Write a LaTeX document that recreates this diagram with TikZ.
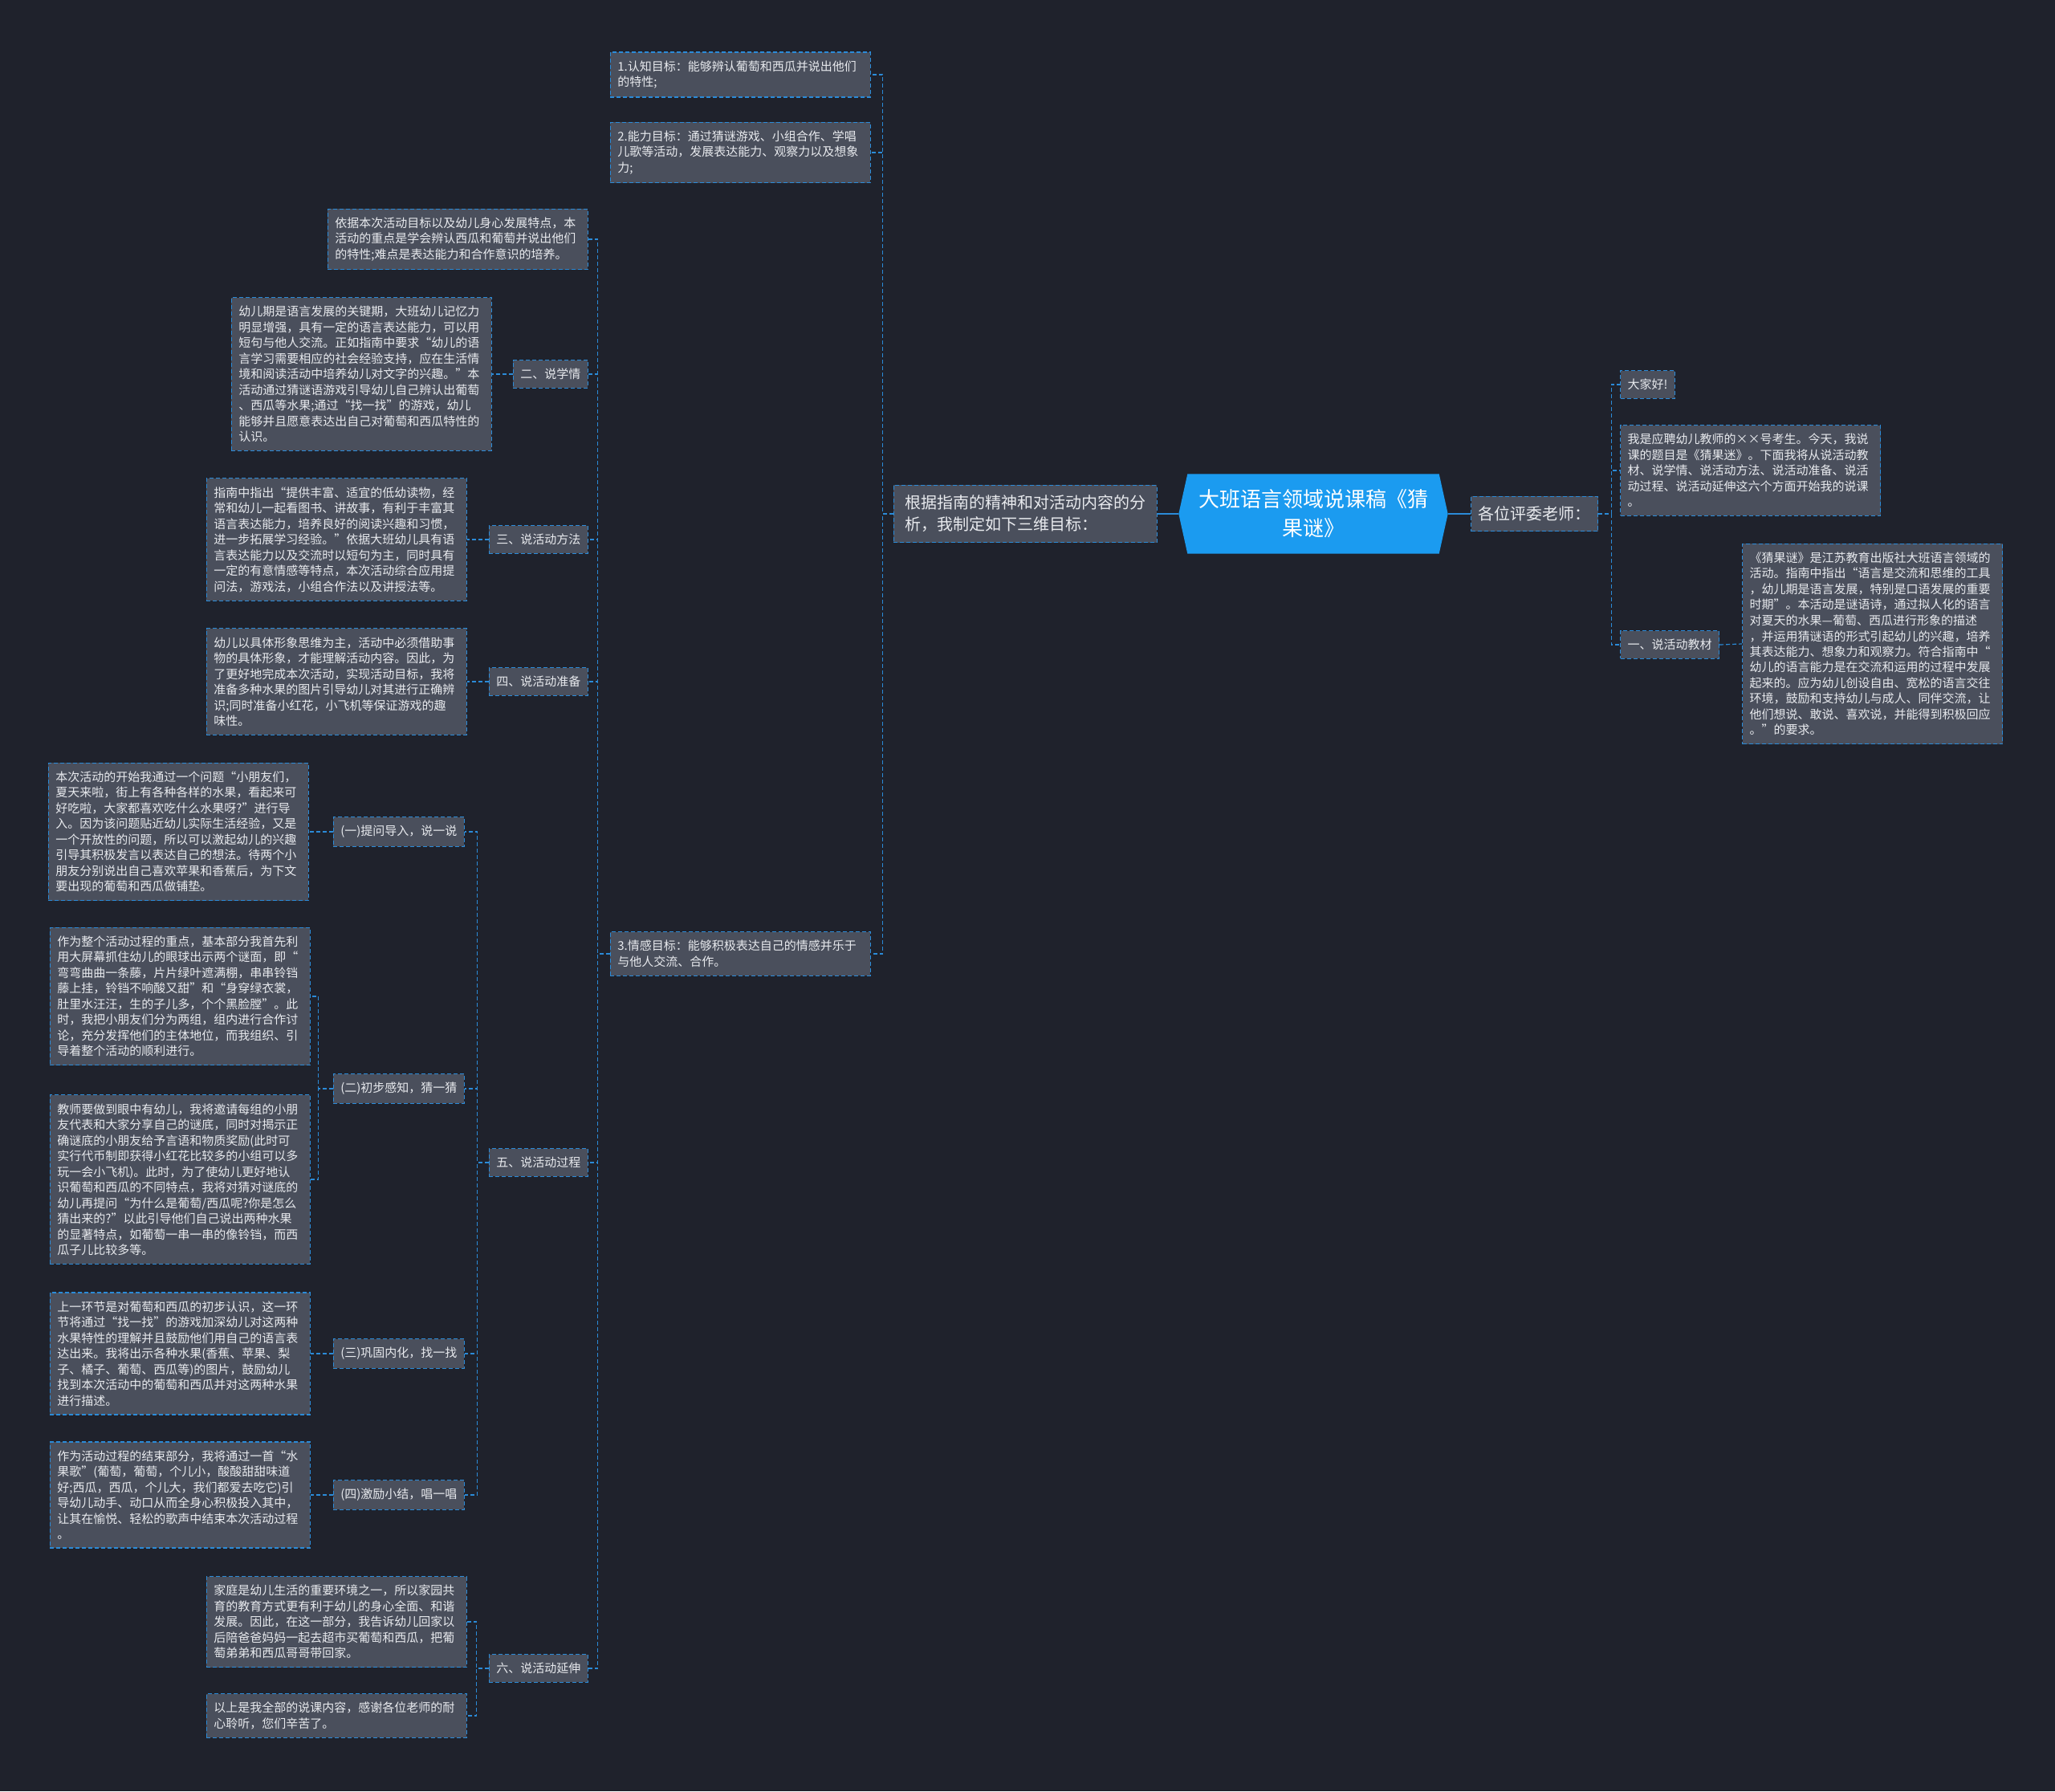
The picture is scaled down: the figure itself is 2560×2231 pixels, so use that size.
\documentclass[tikz,border=0pt]{standalone}
\usepackage{fontspec}
\setmainfont{Noto Sans CJK SC}
\usepackage{tikz}
\usetikzlibrary{
  positioning,
  calc,
  backgrounds
}
\definecolor{mapBg}{HTML}{1F222C}
\definecolor{mapBox}{HTML}{4A4F5C}
\definecolor{mapEdge}{HTML}{2B8BD8}
\definecolor{mapRoot}{HTML}{1B9BF0}
\definecolor{mapText}{HTML}{E8EAEE}

\begin{document}
\begin{tikzpicture}[x=1pt, y=-1pt,
  leaf/.style={draw=mapEdge, fill=mapBox, dash pattern=on 5pt off 3pt, line width=1.2pt,
    text=mapText, font=\fontsize{15}{19.5}\selectfont, inner xsep=9pt, inner ysep=10.5pt, align=left},
  para/.style={leaf, text width=306pt},
  mid/.style={leaf, font=\fontsize{20}{27}\selectfont, inner ysep=12.5pt},
  rootnode/.style={text=white, font=\fontsize{26}{36}\selectfont, align=center,
    minimum width=335pt, minimum height=99pt},
  link/.style={draw=mapEdge, line width=1.2pt, dash pattern=on 5pt off 3pt},
  trunk/.style={draw=mapEdge, line width=2pt}]

  % centre
  \node[rootnode] (root) at (1636,640) {大班语言领域说课稿《猜\\果谜》};
  \node[mid, inner xsep=14pt, anchor=east] (goals) at (1442,640) {根据指南的精神和对活动内容的分\\析，我制定如下三维目标：};
  \node[mid, anchor=west] (judges) at (1832,640) {各位评委老师：};

  % right side
  \node[leaf, anchor=west] (hello) at (2018,479) {大家好!};
  \node[para, anchor=west] (intro) at (2018,586) {我是应聘幼儿教师的××号考生。今天，我说\\课的题目是《猜果迷》。下面我将从说活动教\\材、说学情、说活动方法、说活动准备、说活\\动过程、说活动延伸这六个方面开始我的说课\\。};
  \node[leaf, anchor=west] (material) at (2018,803) {一、说活动教材};
  \node[para, anchor=west] (materialtxt) at (2170,802) {《猜果谜》是江苏教育出版社大班语言领域的\\活动。指南中指出“语言是交流和思维的工具\\，幼儿期是语言发展，特别是口语发展的重要\\时期”。本活动是谜语诗，通过拟人化的语言\\对夏天的水果—葡萄、西瓜进行形象的描述\\，并运用猜谜语的形式引起幼儿的兴趣，培养\\其表达能力、想象力和观察力。符合指南中“\\幼儿的语言能力是在交流和运用的过程中发展\\起来的。应为幼儿创设自由、宽松的语言交往\\环境，鼓励和支持幼儿与成人、同伴交流，让\\他们想说、敢说、喜欢说，并能得到积极回应\\。”的要求。};

  % three goals
  \node[para, anchor=east] (goalA) at (1085,93) {1.认知目标：能够辨认葡萄和西瓜并说出他们\\的特性;};
  \node[para, anchor=east] (goalB) at (1085,190) {2.能力目标：通过猜谜游戏、小组合作、学唱\\儿歌等活动，发展表达能力、观察力以及想象\\力;};
  \node[para, anchor=east] (goalC) at (1085,1188) {3.情感目标：能够积极表达自己的情感并乐于\\与他人交流、合作。};

  % sections
  \node[para, anchor=east] (focus) at (733,298) {依据本次活动目标以及幼儿身心发展特点，本\\活动的重点是学会辨认西瓜和葡萄并说出他们\\的特性;难点是表达能力和合作意识的培养。};
  \node[leaf, anchor=east] (learner) at (733,466) {二、说学情};
  \node[para, anchor=east] (learnertxt) at (613,466) {幼儿期是语言发展的关键期，大班幼儿记忆力\\明显增强，具有一定的语言表达能力，可以用\\短句与他人交流。正如指南中要求“幼儿的语\\言学习需要相应的社会经验支持，应在生活情\\境和阅读活动中培养幼儿对文字的兴趣。”本\\活动通过猜谜语游戏引导幼儿自己辨认出葡萄\\、西瓜等水果;通过“找一找”的游戏，幼儿\\能够并且愿意表达出自己对葡萄和西瓜特性的\\认识。};
  \node[leaf, anchor=east] (method) at (733,672) {三、说活动方法};
  \node[para, anchor=east] (methodtxt) at (582,672) {指南中指出“提供丰富、适宜的低幼读物，经\\常和幼儿一起看图书、讲故事，有利于丰富其\\语言表达能力，培养良好的阅读兴趣和习惯，\\进一步拓展学习经验。”依据大班幼儿具有语\\言表达能力以及交流时以短句为主，同时具有\\一定的有意情感等特点，本次活动综合应用提\\问法，游戏法，小组合作法以及讲授法等。};
  \node[leaf, anchor=east] (prep) at (733,849) {四、说活动准备};
  \node[para, anchor=east] (preptxt) at (582,849) {幼儿以具体形象思维为主，活动中必须借助事\\物的具体形象，才能理解活动内容。因此，为\\了更好地完成本次活动，实现活动目标，我将\\准备多种水果的图片引导幼儿对其进行正确辨\\识;同时准备小红花，小飞机等保证游戏的趣\\味性。};
  \node[leaf, anchor=east] (process) at (733,1448) {五、说活动过程};
  \node[leaf, anchor=east] (extend) at (733,2078) {六、说活动延伸};

  % process steps
  \node[leaf, anchor=east] (stepA) at (579,1036) {(一)提问导入，说一说};
  \node[para, anchor=east] (steptxtA) at (385,1036) {本次活动的开始我通过一个问题“小朋友们，\\夏天来啦，街上有各种各样的水果，看起来可\\好吃啦，大家都喜欢吃什么水果呀?”进行导\\入。因为该问题贴近幼儿实际生活经验，又是\\一个开放性的问题，所以可以激起幼儿的兴趣\\引导其积极发言以表达自己的想法。待两个小\\朋友分别说出自己喜欢苹果和香蕉后，为下文\\要出现的葡萄和西瓜做铺垫。};
  \node[leaf, anchor=east] (stepB) at (579,1356) {(二)初步感知，猜一猜};
  \node[para, anchor=east] (steptxtB) at (387,1241) {作为整个活动过程的重点，基本部分我首先利\\用大屏幕抓住幼儿的眼球出示两个谜面，即“\\弯弯曲曲一条藤，片片绿叶遮满棚，串串铃铛\\藤上挂，铃铛不响酸又甜”和“身穿绿衣裳，\\肚里水汪汪，生的子儿多，个个黑脸膛”。此\\时，我把小朋友们分为两组，组内进行合作讨\\论，充分发挥他们的主体地位，而我组织、引\\导着整个活动的顺利进行。};
  \node[para, anchor=east] (steptxtBB) at (387,1469) {教师要做到眼中有幼儿，我将邀请每组的小朋\\友代表和大家分享自己的谜底，同时对揭示正\\确谜底的小朋友给予言语和物质奖励(此时可\\实行代币制即获得小红花比较多的小组可以多\\玩一会小飞机)。此时，为了使幼儿更好地认\\识葡萄和西瓜的不同特点，我将对猜对谜底的\\幼儿再提问“为什么是葡萄/西瓜呢?你是怎么\\猜出来的?”以此引导他们自己说出两种水果\\的显著特点，如葡萄一串一串的像铃铛，而西\\瓜子儿比较多等。};
  \node[leaf, anchor=east] (stepC) at (579,1686) {(三)巩固内化，找一找};
  \node[para, anchor=east] (steptxtC) at (387,1686) {上一环节是对葡萄和西瓜的初步认识，这一环\\节将通过“找一找”的游戏加深幼儿对这两种\\水果特性的理解并且鼓励他们用自己的语言表\\达出来。我将出示各种水果(香蕉、苹果、梨\\子、橘子、葡萄、西瓜等)的图片，鼓励幼儿\\找到本次活动中的葡萄和西瓜并对这两种水果\\进行描述。};
  \node[leaf, anchor=east] (stepD) at (579,1862) {(四)激励小结，唱一唱};
  \node[para, anchor=east] (steptxtD) at (387,1862) {作为活动过程的结束部分，我将通过一首“水\\果歌”(葡萄，葡萄，个儿小，酸酸甜甜味道\\好;西瓜，西瓜，个儿大，我们都爱去吃它)引\\导幼儿动手、动口从而全身心积极投入其中，\\让其在愉悦、轻松的歌声中结束本次活动过程\\。};

  % extension
  \node[para, anchor=east] (extendA) at (582,2020) {家庭是幼儿生活的重要环境之一，所以家园共\\育的教育方式更有利于幼儿的身心全面、和谐\\发展。因此，在这一部分，我告诉幼儿回家以\\后陪爸爸妈妈一起去超市买葡萄和西瓜，把葡\\萄弟弟和西瓜哥哥带回家。};
  \node[para, anchor=east] (extendB) at (582,2137) {以上是我全部的说课内容，感谢各位老师的耐\\心聆听，您们辛苦了。};

  \begin{scope}[on background layer]
    \fill[mapBg] (0,0) rectangle (2560,2231);
    \fill[mapRoot] ([xshift=11pt]root.north west) -- ([xshift=-11pt]root.north east) -- (root.east)
      -- ([xshift=-11pt]root.south east) -- ([xshift=11pt]root.south west) -- (root.west) -- cycle;
  \end{scope}

  % connectors
  \draw[trunk] (root.west) -- (goals.east);
  \draw[trunk] (root.east) -- (judges.west);
  \foreach \n in {hello, intro, material}
    \draw[link] (judges.east) -- ++(16,0) |- (\n.west);
  \draw[link] (material.east) -- (materialtxt.west);
  \foreach \n in {goalA, goalB, goalC}
    \draw[link] (goals.west) -- ++(-13,0) |- (\n.east);
  \foreach \n in {focus, learner, method, prep, process, extend}
    \draw[link] (goalC.west) -- ++(-15,0) |- (\n.east);
  \draw[link] (learner.west) -- (learnertxt.east);
  \draw[link] (method.west) -- (methodtxt.east);
  \draw[link] (prep.west) -- (preptxt.east);
  \foreach \n in {stepA, stepB, stepC, stepD}
    \draw[link] (process.west) -- ++(-14,0) |- (\n.east);
  \draw[link] (stepA.west) -- (steptxtA.east);
  \foreach \n in {steptxtB, steptxtBB}
    \draw[link] (stepB.west) -- ++(-18,0) |- (\n.east);
  \draw[link] (stepC.west) -- (steptxtC.east);
  \draw[link] (stepD.west) -- (steptxtD.east);
  \foreach \n in {extendA, extendB}
    \draw[link] (extend.west) -- ++(-15,0) |- (\n.east);
\end{tikzpicture}
\end{document}
